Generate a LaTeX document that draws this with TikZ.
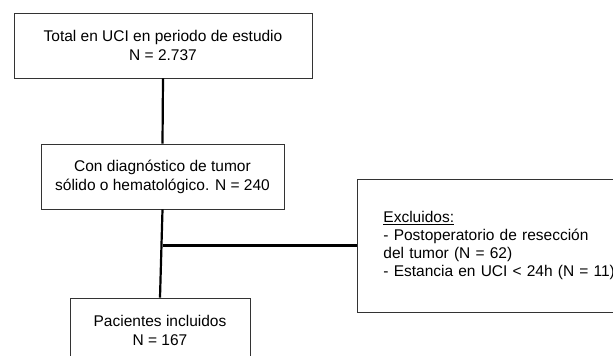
\documentclass[tikz,border=0pt]{standalone}
\usepackage{fontspec}
\setmainfont{Liberation Sans}
\begin{document}
\begin{tikzpicture}[x = 1pt, y = -1pt,
  box/.style = {draw = black!80, line width = 0.9pt, align = center, inner sep = 0pt,
    font = \fontsize{15.5}{19}\selectfont},
  link/.style = {line width = 2.2pt, black}]

\clip (0,0) rectangle (613,356);

\node[box, minimum width = 298pt, minimum height = 65pt] (total) at (163,45.5)
  {Total en UCI en periodo de estudio\\N = 2.737};
\node[box, minimum width = 243pt, minimum height = 65pt] (diag) at (162.5,176.5)
  {Con diagnóstico de tumor\\sólido o hematológico. N = 240};
\node[box, minimum width = 180pt, minimum height = 64pt] (incl) at (160,330)
  {Pacientes incluidos\\N = 167};
\node[box, anchor = west, align = left, text width = 250pt, inner xsep = 26pt,
  minimum height = 133pt, font = \fontsize{15.5}{18}\selectfont] (excl) at (357,245.5)
  {\underline{Excluidos:}\\- Postoperatorio de resección\\del tumor (N = 62)\\- Estancia en UCI < 24h (N = 11)};

\draw[link] (total.south) to (diag.north);
\draw[link] (diag.south) to (incl.north);
\draw[link] (diag.south |- excl.west) to (excl.west);

\end{tikzpicture}
\end{document}
